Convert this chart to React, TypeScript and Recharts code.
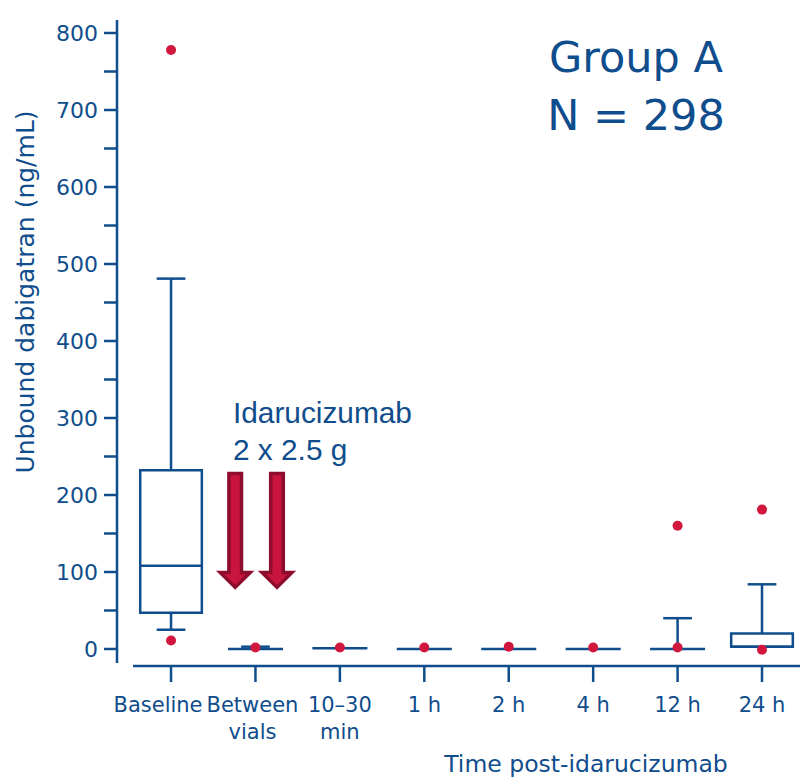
import React from 'react';
import { ComposedChart, XAxis, YAxis, Scatter, ReferenceArea, ReferenceLine } from 'recharts';

// ---- data ----
const categories = ['Baseline', 'Between\nvials', '10–30\nmin', '1 h', '2 h', '4 h', '12 h', '24 h'];
const whiskerLow = [25, 0, 1, 0, 0, 0, 0, 3];
const q1 = [47, 0, 1, 0, 0, 0, 0, 3];
const median = [108, 0, 1, 0, 0, 0, 0, 3];
const q3 = [232, 0, 1, 0, 0, 0, 0, 20];
const whiskerHigh = [481, 3, 1, 0, 0, 0, 40, 84];
const outliers = [[778, 11], [2], [2], [2], [3], [2], [160, 2], [181, -1]];
const yTicks = [0, 50, 100, 150, 200, 250, 300, 350, 400, 450, 500, 550, 600, 650, 700, 750, 800];
const arrowX = [0.76, 1.255];
const arrowTop = 228;
const arrowTip = 80;

// ---- style ----
const BLUE = '#0f4d8c';
const RED = '#d2173f';
const ARROW_FILL = '#c8143f';
const ARROW_EDGE = '#8e0c2c';
const SW = 2.5;
const BOX_HALF = 0.365;
const FLAT_HALF = 0.326;
const CAP_HALF = 0.17;
const REG = '"DejaVu Sans", sans-serif';
const labelShift = [-13, -3, 0, 0, 0, 0, 0, 0];

const outlierPoints = outliers.flatMap((vals, i) => vals.map((v) => ({ x: i, y: v })));

const XTick = (props: any) => {
  const { x, y, payload } = props;
  const i = payload.value as number;
  const lines = categories[i].split('\n');
  const tx = x + labelShift[i];
  return (
    <g>
      <line x1={x} x2={x} y1={y + 3} y2={y + 19} stroke={BLUE} strokeWidth={SW} />
      <text x={tx} y={y + 49} textAnchor="middle" fill={BLUE} fontSize={21} fontFamily={REG}>
        {lines.map((l: string, k: number) => (
          <tspan key={k} x={tx} dy={k === 0 ? 0 : 27}>
            {l}
          </tspan>
        ))}
      </text>
    </g>
  );
};

const Dot = (props: any) => <circle cx={props.cx} cy={props.cy} r={5} fill={RED} />;

const ArrowShape = (props: any) => {
  const { x1, y1, y2 } = props;
  const top = Math.min(y1, y2);
  const tip = Math.max(y1, y2);
  const sw = 6.3;
  const hw = 15;
  const hl = 15;
  const pts = [
    [x1 - sw, top],
    [x1 + sw, top],
    [x1 + sw, tip - hl],
    [x1 + hw, tip - hl],
    [x1, tip],
    [x1 - hw, tip - hl],
    [x1 - sw, tip - hl],
  ]
    .map((p) => p.join(','))
    .join(' ');
  return <polygon points={pts} fill={ARROW_FILL} stroke={ARROW_EDGE} strokeWidth={3.5} strokeLinejoin="miter" />;
};

export default function App() {
  const boxes: React.ReactNode[] = [];
  const seg = (key: string, xa: number, ya: number, xb: number, yb: number) => (
    <ReferenceLine
      key={key}
      segment={[
        { x: xa, y: ya },
        { x: xb, y: yb },
      ]}
      stroke={BLUE}
      strokeWidth={SW}
      ifOverflow="visible"
    />
  );
  categories.forEach((_, i) => {
    if (q3[i] > q1[i]) {
      boxes.push(
        <ReferenceArea
          key={`box${i}`}
          x1={i - BOX_HALF}
          x2={i + BOX_HALF}
          y1={q1[i]}
          y2={q3[i]}
          fill="none"
          stroke={BLUE}
          strokeWidth={SW}
          ifOverflow="visible"
        />
      );
      boxes.push(seg(`med${i}`, i - BOX_HALF, median[i], i + BOX_HALF, median[i]));
    } else {
      boxes.push(seg(`flat${i}`, i - FLAT_HALF, median[i], i + FLAT_HALF, median[i]));
    }
    if (whiskerHigh[i] > q3[i]) {
      boxes.push(seg(`wh${i}`, i, q3[i], i, whiskerHigh[i]));
      boxes.push(seg(`whc${i}`, i - CAP_HALF, whiskerHigh[i], i + CAP_HALF, whiskerHigh[i]));
    }
    if (whiskerLow[i] < q1[i]) {
      boxes.push(seg(`wl${i}`, i, q1[i], i, whiskerLow[i]));
      boxes.push(seg(`wlc${i}`, i - CAP_HALF, whiskerLow[i], i + CAP_HALF, whiskerLow[i]));
    }
  });

  return (
    <div style={{ position: 'fixed', left: 0, top: 0, width: 800, height: 780, background: '#fff' }}>
      <ComposedChart
        width={800}
        height={780}
        data={outlierPoints}
        margin={{ top: 20, right: 0, bottom: 0, left: 0 }}
      >
        <XAxis
          type="number"
          dataKey="x"
          domain={[-0.64, 7.45]}
          ticks={[0, 1, 2, 3, 4, 5, 6, 7]}
          allowDataOverflow
          axisLine={false}
          tickLine={false}
          tickSize={0}
          tickMargin={0}
          height={117}
          tick={<XTick />}
          interval={0}
        />
        <YAxis
          type="number"
          dataKey="y"
          domain={[-18.2, 816.9]}
          ticks={yTicks}
          allowDataOverflow
          width={117}
          interval={0}
          tickFormatter={(v: number) => (v % 100 === 0 ? String(v) : '')}
          axisLine={{ stroke: BLUE, strokeWidth: SW }}
          tickLine={{ stroke: BLUE, strokeWidth: SW }}
          tickSize={13}
          tickMargin={6}
          tick={{ fill: BLUE, fontSize: 22, fontFamily: REG }}
        />
        {seg('xaxis', -0.45, -22, 7.45, -22)}
        {boxes}
        {arrowX.map((ax, k) => (
          <ReferenceLine
            key={`arrow${k}`}
            segment={[
              { x: ax, y: arrowTop },
              { x: ax, y: arrowTip },
            ]}
            shape={<ArrowShape />}
            ifOverflow="visible"
          />
        ))}
        <Scatter dataKey="y" data={outlierPoints} isAnimationActive={false} shape={<Dot />} />
      </ComposedChart>
      <svg
        width={800}
        height={780}
        style={{ position: 'absolute', left: 0, top: 0, pointerEvents: 'none' }}
      >
        <text
          x={33.5}
          y={292}
          transform="rotate(-90, 33.5, 292)"
          textAnchor="middle"
          fill={BLUE}
          fontSize={25}
          fontFamily={REG}
        >
          Unbound dabigatran (ng/mL)
        </text>
        <text x={586} y={772} textAnchor="middle" fill={BLUE} fontSize={23.5} fontFamily={REG}>
          Time post-idarucizumab
        </text>
        <text x={636} y={72} textAnchor="middle" fill={BLUE} fontSize={43} fontFamily={REG}>
          Group A
        </text>
        <text x={636} y={130} textAnchor="middle" fill={BLUE} fontSize={43} fontFamily={REG}>
          N = 298
        </text>
        <text x={233} y={423} fill={BLUE} fontSize={29.8} fontFamily='"Liberation Sans", Arial, sans-serif'>
          Idarucizumab
        </text>
        <text x={233} y={460} fill={BLUE} fontSize={29.8} fontFamily='"Liberation Sans", Arial, sans-serif'>
          2 x 2.5 g
        </text>
      </svg>
    </div>
  );
}
